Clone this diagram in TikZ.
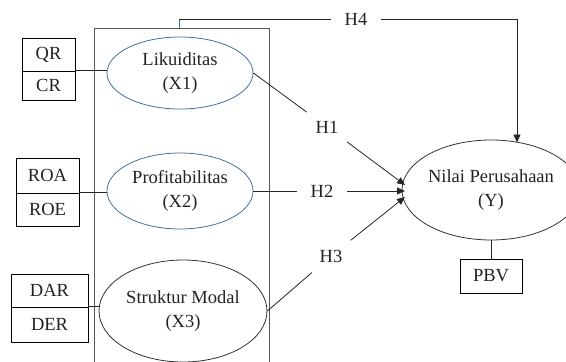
\documentclass[tikz,border=0pt]{standalone}
\usepackage{fontspec}
\setmainfont{Liberation Serif}
\usetikzlibrary{arrows.meta,shapes.geometric}
\definecolor{ebl}{HTML}{41719C}
\definecolor{fr}{HTML}{555555}
\definecolor{txt}{HTML}{222222}
\begin{document}
\begin{tikzpicture}[x=1pt,y=-1pt,
  every node/.style={font=\fontsize{18.5}{24}\selectfont, text=txt},
  lat/.style={ellipse, draw, line width=0.8pt, inner sep=0pt, align=center},
  ind/.style={rectangle, draw=black, line width=0.8pt, inner sep=0pt},
  hlab/.style={circle, minimum size=50pt, inner sep=0pt},
  con/.style={line width=0.8pt, draw=black!85},
  arr/.style={con, -{Triangle[length=8pt,width=7pt]}}]
\useasboundingbox (0,0) rectangle (566,362);
% frame
\draw[fr, line width=0.8pt] (94,362) -- (94,28) -- (269,28) -- (269,362);
% latent variables
\node[lat, draw=ebl, minimum width=146pt, minimum height=72pt] (L) at (180,73) {Likuiditas\\(X1)};
\node[lat, draw=ebl, minimum width=146pt, minimum height=76pt] (P) at (180,191) {Profitabilitas\\(X2)};
\node[lat, draw=black!80, minimum width=168pt, minimum height=102pt] (S) at (183,311) {Struktur Modal\\(X3)};
\node[lat, draw=black!80, minimum width=168pt, minimum height=100pt] (Y) at (491,190) {Nilai Perusahaan\\(Y)};
% indicators
\node[ind, minimum width=53pt, minimum height=33pt] (QR) at (48.5,54.5) {QR};
\node[ind, minimum width=53pt, minimum height=29pt] (CR) at (48.5,85.5) {CR};
\node[ind, minimum width=63pt, minimum height=35pt] (ROA) at (47.5,175.5) {ROA};
\node[ind, minimum width=63pt, minimum height=33pt] (ROE) at (47.5,209.5) {ROE};
\node[ind, minimum width=77pt, minimum height=33pt] (DAR) at (49.5,290.5) {DAR};
\node[ind, minimum width=77pt, minimum height=35pt] (DER) at (49.5,324.5) {DER};
\node[ind, minimum width=62pt, minimum height=34pt] (PBV) at (491,276) {PBV};
% indicator links
\draw[con] (CR.north east) -- (CR.north east -| L.west);
\draw[con] (ROE.north east) -- (ROE.north east -| P.west);
\draw[con] (DER.north east) -- (DER.north east -| S.west);
\draw[con] (Y.south) -- (PBV.north);
% hypothesis labels
\node[hlab] (H1) at (327,127) {H1};
\node[hlab] (H2) at (322,191) {H2};
\node[hlab] (H3) at (331,256) {H3};
\node[hlab] (H4) at (356,19) {H4};
\coordinate (t1) at (405,185);
\coordinate (t2) at (405,191);
\coordinate (t3) at (405,197);
\coordinate (k0) at (179,28);
\coordinate (k1) at (179,19);
\coordinate (k2) at (517,19);
\coordinate (k3) at (517,142.5);
\draw[con] (L.east) -- (H1);
\draw[arr] (H1) -- (t1);
\draw[con] (P.east) -- (H2);
\draw[arr] (H2) -- (t2);
\draw[con] (S.east) -- (H3);
\draw[arr] (H3) -- (t3);
\draw[ebl, line width=0.8pt] (k0) -- (k1);
\draw[con] (k1) -- (H4);
\draw[arr] (H4) -- (k2) -- (k3);
\end{tikzpicture}
\end{document}
